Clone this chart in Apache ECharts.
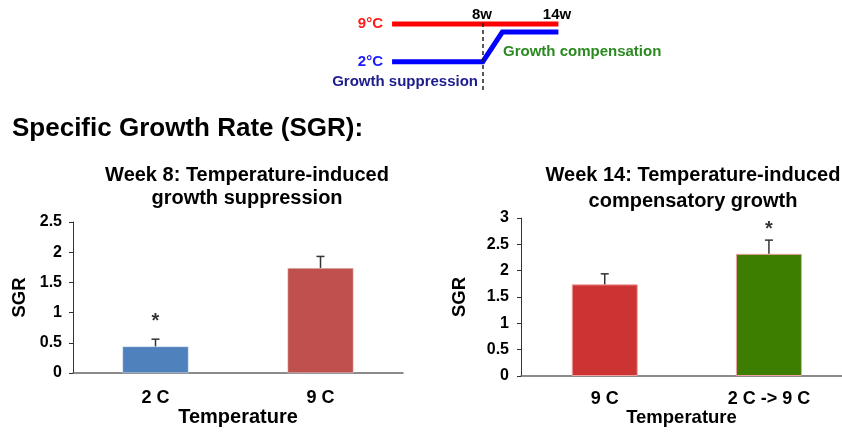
<!DOCTYPE html>
<html><head><meta charset="utf-8">
<script src="https://cdn.jsdelivr.net/npm/echarts@6/dist/echarts.min.js"></script>
<style>html,body{margin:0;padding:0;background:#fff}#c{width:842px;height:432px}</style>
</head><body><div id="c"></div>
<script>
// ---- data ----
const week8Categories = ['2 C', '9 C'];
const week8Values = [0.44, 1.74];
const week8Errors = [0.12, 0.19];
const week8Stars = [0.85, null];
const week8Ticks = ['0', '0.5', '1', '1.5', '2', '2.5'];

const week14Categories = ['9 C', '2 C -> 9 C'];
const week14Values = [1.74, 2.32];
const week14Errors = [0.2, 0.26];
const week14Stars = [null, 2.78];
const week14Ticks = ['0', '0.5', '1', '1.5', '2', '2.5', '3'];

// schematic: [week, level]
const warmLine = [[0.8, 9], [14, 9]];
const coldLine = [[0.8, 2], [8, 2], [9.55, 7.5], [14, 7.5]];
const switchWeek = 8;

const FONT = '"Liberation Sans", Arial, sans-serif';
const chart = echarts.init(document.getElementById('c'), null, {renderer: 'canvas'});

function errRender(params, api) {
  const x = api.value(0), v = api.value(1), e = api.value(2);
  const p0 = api.coord([x, v]);
  const p1 = api.coord([x, v + e]);
  const st = {stroke: '#333', lineWidth: 1.5};
  return {type: 'group', children: [
    {type: 'line', shape: {x1: p0[0], y1: p0[1], x2: p1[0], y2: p1[1]}, style: st},
    {type: 'line', shape: {x1: p1[0] - 4, y1: p1[1], x2: p1[0] + 4, y2: p1[1]}, style: st}
  ]};
}

const tickStyle = {fontFamily: FONT, fontWeight: 'bold', fontSize: 16, color: '#000'};
const catStyle = {fontFamily: FONT, fontWeight: 'bold', fontSize: 18, color: '#000'};
function nameStyle(sz) { return {fontFamily: FONT, fontWeight: 'bold', fontSize: sz, color: '#000'}; }

const option = {
  animation: false,
  title: [
    {text: 'Week 8: Temperature-induced\ngrowth suppression', left: 242, top: 159, textAlign: 'center',
     textStyle: {fontFamily: FONT, fontWeight: 'bold', fontSize: 20, lineHeight: 23, color: '#000', align: 'center'}},
    {text: 'Week 14: Temperature-induced\ncompensatory growth', left: 688, top: 157, textAlign: 'center',
     textStyle: {fontFamily: FONT, fontWeight: 'bold', fontSize: 20, lineHeight: 26, color: '#000', align: 'center'}}
  ],
  grid: [
    {left: 73, top: 222, width: 330, bottom: 59},
    {left: 521, top: 218, right: 0, bottom: 56},
    {left: 382, top: 20, width: 176.4, height: 70}
  ],
  xAxis: [
    {type: 'category', gridIndex: 0, data: week8Categories,
     axisLine: {lineStyle: {color: '#666', width: 1.5}}, axisTick: {show: false},
     axisLabel: Object.assign({margin: 16}, catStyle),
     name: 'Temperature', nameLocation: 'middle', nameGap: 34, nameTextStyle: nameStyle(20)},
    {type: 'value', gridIndex: 1, min: -0.51, max: 1.445, splitLine: {show: false},
     axisLine: {show: true, onZero: false, lineStyle: {color: '#666', width: 1.5}}, axisTick: {show: false},
     axisLabel: Object.assign({margin: 14, customValues: [0, 1], formatter: (v) => week14Categories[Math.round(v)]}, catStyle),
     name: 'Temperature', nameLocation: 'middle', nameGap: 32, nameTextStyle: nameStyle(18.5)},
    {type: 'value', gridIndex: 2, min: 0, max: 14, show: false}
  ],
  yAxis: [
    {type: 'value', gridIndex: 0, min: 0, max: 2.5, interval: 0.5,
     axisLine: {show: true, lineStyle: {color: '#333'}}, axisTick: {show: true, length: 4, lineStyle: {color: '#333'}},
     splitLine: {show: false},
     axisLabel: Object.assign({margin: 11, formatter: (v) => week8Ticks[Math.round(v / 0.5)]}, tickStyle),
     name: 'SGR', nameLocation: 'middle', nameGap: 44, nameRotate: 90, nameTextStyle: nameStyle(18.5)},
    {type: 'value', gridIndex: 1, min: 0, max: 3, interval: 0.5,
     axisLine: {show: true, onZero: false, lineStyle: {color: '#333'}}, axisTick: {show: true, length: 4, lineStyle: {color: '#333'}},
     splitLine: {show: false},
     axisLabel: Object.assign({margin: 12, formatter: (v) => week14Ticks[Math.round(v / 0.5)]}, tickStyle),
     name: 'SGR', nameLocation: 'middle', nameGap: 52, nameRotate: 90, nameTextStyle: nameStyle(18.5)},
    {type: 'value', gridIndex: 2, min: -3.25, max: 9.75, show: false}
  ],
  series: [
    {type: 'bar', xAxisIndex: 0, yAxisIndex: 0, barWidth: 66,
     data: week8Values.map((v, i) => ({value: v, itemStyle: {color: ['#4f81bd', '#c0504d'][i], borderColor: '#e6ecf5', borderWidth: 0.5}}))},
    {type: 'custom', xAxisIndex: 0, yAxisIndex: 0, renderItem: errRender,
     data: week8Values.map((v, i) => [i, v, week8Errors[i]]), z: 5},
    {type: 'scatter', xAxisIndex: 0, yAxisIndex: 0, symbolSize: 0,
     data: week8Stars.map((v, i) => v == null ? null : [i, v]),
     label: {show: true, position: 'inside', formatter: '*', fontFamily: FONT, fontWeight: 'bold', fontSize: 20, color: '#000'}},

    {type: 'bar', xAxisIndex: 1, yAxisIndex: 1, barWidth: 66,
     data: week14Values.map((v, i) => ({value: [i, v], itemStyle: {color: ['#cc3333', '#3d7d00'][i], borderColor: '#f2a0a0', borderWidth: 1}}))},
    {type: 'custom', xAxisIndex: 1, yAxisIndex: 1, renderItem: errRender,
     data: week14Values.map((v, i) => [i, v, week14Errors[i]]), z: 5},
    {type: 'scatter', xAxisIndex: 1, yAxisIndex: 1, symbolSize: 0,
     data: week14Stars.map((v, i) => v == null ? null : [i, v]),
     label: {show: true, position: 'inside', formatter: '*', fontFamily: FONT, fontWeight: 'bold', fontSize: 20, color: '#000'}},

    {type: 'line', xAxisIndex: 2, yAxisIndex: 2, data: warmLine, symbol: 'none',
     lineStyle: {color: '#ff0000', width: 5}},
    {type: 'line', xAxisIndex: 2, yAxisIndex: 2, data: coldLine, symbol: 'none',
     lineStyle: {color: '#0000ff', width: 5, join: 'miter'},
     markLine: {silent: true, symbol: 'none', label: {show: false},
       lineStyle: {color: '#222', type: [4, 3], width: 1.5},
       data: [{xAxis: switchWeek}]}}
  ],
  graphic: [
    {type: 'text', left: 12, top: 116, style: {text: 'Specific Growth Rate (SGR):', font: 'bold 26px ' + FONT, fill: '#000'}},
    {type: 'text', x: 383, y: 24, style: {text: '9°C', font: 'bold 15px ' + FONT, fill: '#ff1a1a', textAlign: 'right', textVerticalAlign: 'middle'}},
    {type: 'text', x: 383, y: 62, style: {text: '2°C', font: 'bold 15px ' + FONT, fill: '#1a1aff', textAlign: 'right', textVerticalAlign: 'middle'}},
    {type: 'text', x: 482, y: 15, style: {text: '8w', font: 'bold 15px ' + FONT, fill: '#000', textAlign: 'center', textVerticalAlign: 'middle'}},
    {type: 'text', x: 557, y: 15, style: {text: '14w', font: 'bold 15px ' + FONT, fill: '#000', textAlign: 'center', textVerticalAlign: 'middle'}},
    {type: 'text', x: 503, y: 52, style: {text: 'Growth compensation', font: 'bold 15px ' + FONT, fill: '#2a8a1f', textAlign: 'left', textVerticalAlign: 'middle'}},
    {type: 'text', x: 478, y: 82, style: {text: 'Growth suppression', font: 'bold 15px ' + FONT, fill: '#1c1c8c', textAlign: 'right', textVerticalAlign: 'middle'}}
  ]
};
chart.setOption(option);
</script>
</body></html>
